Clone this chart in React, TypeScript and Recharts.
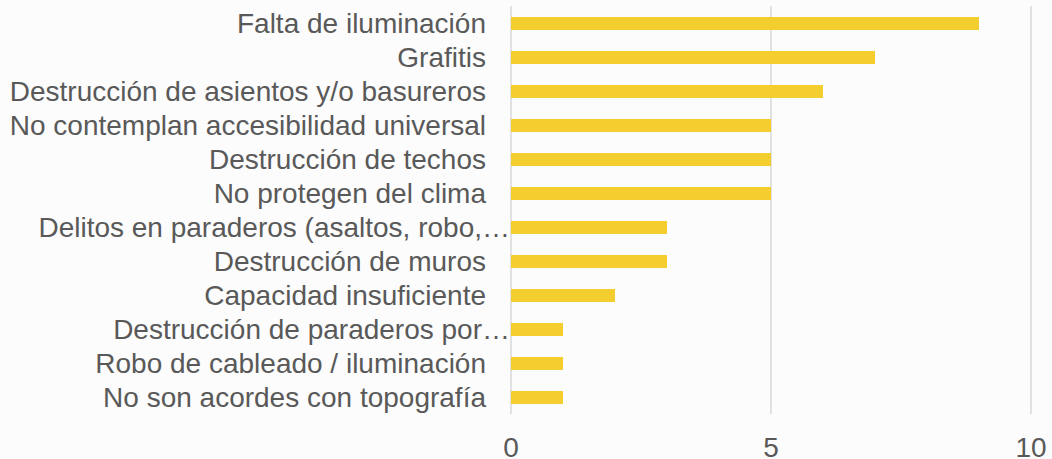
import { BarChart, Bar, XAxis, YAxis, CartesianGrid } from 'recharts';

const categories = [
  'Falta de iluminación',
  'Grafitis',
  'Destrucción de asientos y/o basureros',
  'No contemplan accesibilidad universal',
  'Destrucción de techos',
  'No protegen del clima',
  'Delitos en paraderos (asaltos, robo,…',
  'Destrucción de muros',
  'Capacidad insuficiente',
  'Destrucción de paraderos por…',
  'Robo de cableado / iluminación',
  'No son acordes con topografía',
];
const counts = [9, 7, 6, 5, 5, 5, 3, 3, 2, 1, 1, 1];
const xTicks = [0, 5, 10];

const data = categories.map((name, i) => ({ name, value: counts[i] }));

const FONT = '"Liberation Sans", Arial, sans-serif';
const TEXT = '#595959';
const SIZE = 28;

const CategoryTick = (props: { x?: number; y?: number; payload?: { value: string } }) => {
  const { x = 0, y = 0, payload } = props;
  if (!payload) return null;
  // truncated labels run all the way to the axis, like in the original
  const shift = payload.value.endsWith('…') ? 24 : 0;
  return (
    <text x={x + shift} y={y} dy="0.355em" textAnchor="end"
      style={{ fontFamily: FONT, fontSize: SIZE, fill: TEXT }}>
      {payload.value}
    </text>
  );
};

const ValueTick = (props: { x?: number; y?: number; payload?: { value: number } }) => {
  const { x = 0, y = 0, payload } = props;
  if (!payload) return null;
  return (
    <text x={x} y={y} textAnchor="middle"
      style={{ fontFamily: FONT, fontSize: SIZE, fill: TEXT }}>
      {payload.value}
    </text>
  );
};

export default function App() {
  return (
    <div style={{ position: 'absolute', left: 0, top: 0, width: 1052, height: 459, background: '#fcfcfc' }}>
      <BarChart width={1052} height={459} data={data} layout="vertical"
        margin={{ top: 6, right: 21, bottom: 0, left: 0 }} barCategoryGap={0}>
        <CartesianGrid horizontal={false} vertical stroke="#d9d9d9" strokeWidth={1.5} />
        <XAxis type="number" domain={[0, 10]} ticks={xTicks} axisLine={false} tickLine={false}
          tickSize={0} tickMargin={43} height={45} interval={0} tick={<ValueTick />} />
        <YAxis type="category" dataKey="name" width={511} axisLine={false} tickLine={false}
          tickSize={0} tickMargin={25} interval={0} tick={<CategoryTick />} />
        <Bar dataKey="value" fill="#f4cd2f" barSize={13} isAnimationActive={false} />
      </BarChart>
    </div>
  );
}
